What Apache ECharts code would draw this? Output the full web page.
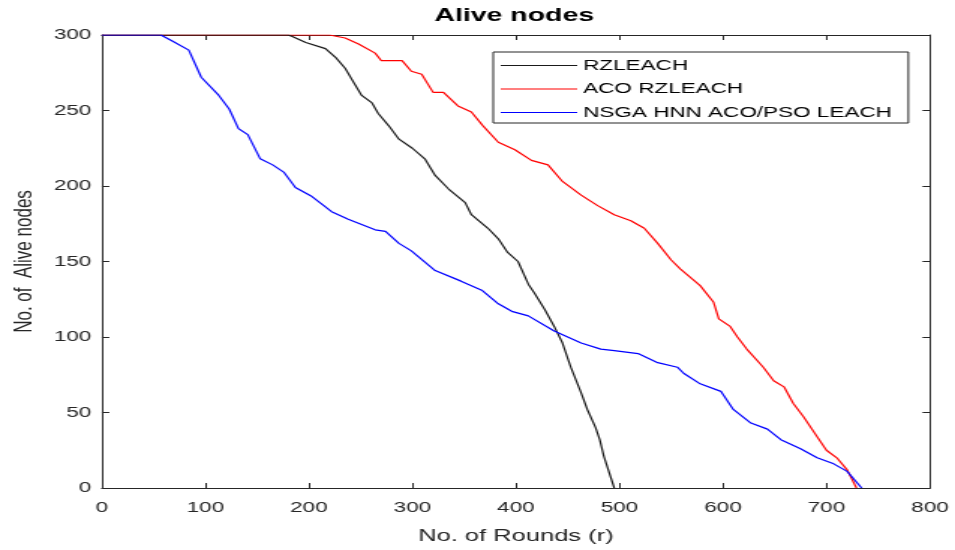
<!DOCTYPE html>
<html>
<head>
<meta charset="utf-8">
<script src="https://cdn.jsdelivr.net/npm/echarts@6/dist/echarts.min.js"></script>
<style>
html,body{margin:0;padding:0;background:#fff;overflow:hidden;width:955px;height:550px;}
#chart{width:637px;height:550px;transform:scaleX(1.4992);transform-origin:0 0;}
</style>
</head>
<body>
<div id="chart"></div>
<script>
var seriesNames = ['RZLEACH', 'ACO RZLEACH', 'NSGA HNN ACO/PSO LEACH'];
var xTicks = [0, 100, 200, 300, 400, 500, 600, 700, 800];
var yTicks = [0, 50, 100, 150, 200, 250, 300];

var rzleachRounds = [0,180,184,197,216,226,235,242,251,261,267,277,287,300,312,322,335,351,357,373,383,392,402,412,418,428,437,445,453,463,469,477,481,485,495];
var rzleachAlive  = [300,300,299,295,291,285,278,270,260,255,248,240,231,225,218,207,198,189,181,172,165,156,150,135,129,118,107,96,80,63,52,40,32,21,0];

var acoRounds = [0,220,235,248,264,270,290,299,309,320,330,344,357,368,383,399,415,431,445,463,479,495,511,524,537,550,559,578,591,596,607,614,623,639,649,659,668,678,691,700,710,720,729];
var acoAlive  = [300,300,298,294,288,283,283,276,274,262,262,253,249,240,229,224,217,214,203,194,187,181,177,172,162,151,145,134,123,112,107,100,92,80,71,67,56,47,34,25,20,12,0];

var nsgaRounds = [0,57,68,84,96,113,123,132,141,153,165,176,187,203,222,238,264,274,287,299,322,347,367,383,396,412,437,463,482,495,518,537,556,562,578,598,610,627,643,656,675,691,707,720,734];
var nsgaAlive  = [300,300,296,290,272,260,251,238,234,218,214,209,199,193,183,178,171,170,162,157,144,137,131,122,117,114,104,96,92,91,89,83,80,76,69,64,52,43,39,32,26,20,16,11,0];

function zip(a, b) { return a.map(function (v, i) { return [v, b[i]]; }); }

var FONT = 'Liberation Sans, Arial, Helvetica, sans-serif';
var AX = '#262626';

var chart = echarts.init(document.getElementById('chart'), null, {renderer: 'canvas'});
var baseX = {
  type: 'value', min: xTicks[0], max: xTicks[xTicks.length - 1], interval: 100,
  axisLine: {show: true, onZero: false, lineStyle: {color: AX, width: 1}},
  axisTick: {show: true, inside: true, length: 5, lineStyle: {color: AX}},
  splitLine: {show: false}
};
var baseY = {
  type: 'value', min: yTicks[0], max: yTicks[yTicks.length - 1], interval: 50,
  axisLine: {show: true, onZero: false, lineStyle: {color: AX, width: 1}},
  axisTick: {show: true, inside: true, length: 5, lineStyle: {color: AX}},
  splitLine: {show: false}
};

chart.setOption({
  animation: false,
  backgroundColor: '#fff',
  title: {
    text: 'Alive nodes', left: 343, top: 6, padding: 0, textAlign: 'center',
    textStyle: {fontFamily: FONT, fontSize: 19, fontWeight: 'bold', color: '#000'}
  },
  legend: {
    orient: 'vertical', left: 329, top: 52,
    data: seriesNames,
    icon: 'rect',
    itemWidth: 51, itemHeight: 1.2, itemGap: 8.5, padding: [6, 11, 3, 5],
    itemStyle: {borderWidth: 0},
    borderColor: AX, borderWidth: 1, backgroundColor: '#fff',
    textStyle: {fontFamily: FONT, fontSize: 15, color: '#000', lineHeight: 14, padding: [0, 0, 0, -1]}
  },
  grid: {left: 66, right: 16.7, top: 35, bottom: 62, containLabel: false},
  xAxis: [
    Object.assign({}, baseX, {
      position: 'bottom',
      name: 'No. of Rounds (r)', nameLocation: 'middle', nameGap: 40,
      nameTextStyle: {fontFamily: FONT, fontSize: 17, color: AX},
      axisLabel: {show: true, margin: 12, fontFamily: FONT, fontSize: 15, color: AX,
        formatter: function (v) { return xTicks.indexOf(v) >= 0 ? String(v) : ''; }}
    }),
    Object.assign({}, baseX, {position: 'top', axisLabel: {show: false}})
  ],
  yAxis: [
    Object.assign({}, baseY, {
      position: 'left',
      name: 'No. of  Alive nodes', nameLocation: 'middle', nameGap: 40,
      nameTextStyle: {fontFamily: FONT, fontSize: 17, color: AX},
      axisLabel: {show: true, margin: 7, fontFamily: FONT, fontSize: 15, color: AX,
        formatter: function (v) { return yTicks.indexOf(v) >= 0 ? String(v) : ''; }}
    }),
    Object.assign({}, baseY, {position: 'right', axisLabel: {show: false}})
  ],
  series: [
    {name: seriesNames[0], type: 'line', xAxisIndex: 0, yAxisIndex: 0, symbol: 'none',
     data: zip(rzleachRounds, rzleachAlive), lineStyle: {color: '#1a1a1a', width: 1.2}, itemStyle: {color: '#1a1a1a'}, z: 3},
    {name: seriesNames[1], type: 'line', xAxisIndex: 0, yAxisIndex: 0, symbol: 'none',
     data: zip(acoRounds, acoAlive), lineStyle: {color: '#ff0000', width: 1.2}, itemStyle: {color: '#ff0000'}, z: 2},
    {name: seriesNames[2], type: 'line', xAxisIndex: 0, yAxisIndex: 0, symbol: 'none',
     data: zip(nsgaRounds, nsgaAlive), lineStyle: {color: '#0000ff', width: 1.2}, itemStyle: {color: '#0000ff'}, z: 4}
  ]
});
</script>
</body>
</html>
